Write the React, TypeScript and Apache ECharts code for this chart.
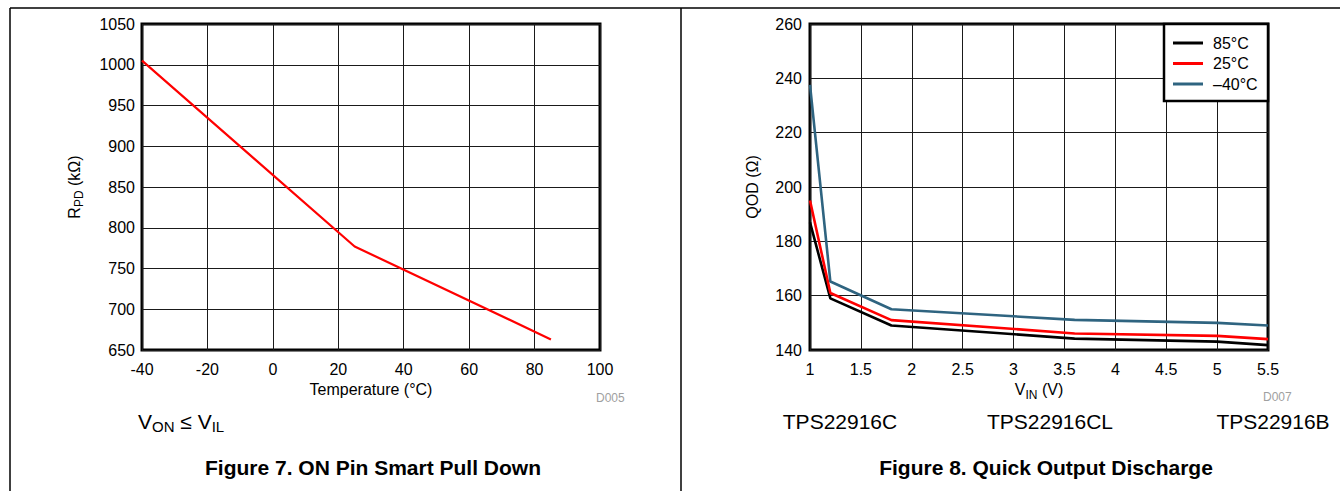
import React, { useEffect, useRef } from "react";
import * as echarts from "echarts";

// ---- Figure 7 data ----
const tempX = [-40, 25, 85];
const rpdY = [1005, 777, 663];

// ---- Figure 8 data ----
const vinX = [1, 1.2, 1.8, 3.6, 5.0, 5.5];
const qod85 = [187, 159, 149, 144.2, 143.1, 141.8];
const qod25 = [195, 161, 151, 146.1, 145.2, 144];
const qodM40 = [237.6, 165.2, 155, 151.1, 150, 149];
const seriesNames = ["85°C", "25°C", "–40°C"];

const FONT = '"Liberation Sans", Arial, Helvetica, sans-serif';

const zip = (xs: number[], ys: number[]) => xs.map((x, i) => [x, ys[i]]);

export default function App() {
  const ref = useRef<HTMLDivElement>(null);

  useEffect(() => {
    if (!ref.current) return;
    const chart = echarts.init(ref.current, undefined, { renderer: "svg" });

    const axisLabel = {
      fontSize: 16, color: "#000", fontFamily: FONT,
      formatter: (v: number) => String(v),
    };
    const splitLine = { show: true, lineStyle: { color: "#1a1a1a", width: 1 } };
    const nameRich = {
      m: { fontSize: 16, lineHeight: 22, color: "#000", fontFamily: FONT },
      s: { fontSize: 12, lineHeight: 12, verticalAlign: "bottom", color: "#000", fontFamily: FONT },
    };

    const option: any = {
      animation: false,
      backgroundColor: "#fff",
      textStyle: { fontFamily: FONT },
      grid: [
        { left: 142, top: 24, width: 458, height: 326, show: true, borderColor: "#000", borderWidth: 3, backgroundColor: "transparent" },
        { left: 810, top: 24, width: 458, height: 326, show: true, borderColor: "#000", borderWidth: 3, backgroundColor: "transparent" },
      ],
      xAxis: [
        {
          type: "value", gridIndex: 0, min: -40, max: 100, interval: 20,
          axisLine: { show: false }, axisTick: { show: false },
          axisLabel: { ...axisLabel, margin: 11 }, splitLine,
          name: "Temperature (°C)", nameLocation: "middle", nameGap: 30,
          nameTextStyle: { fontSize: 16, color: "#000", fontFamily: FONT },
        },
        {
          type: "value", gridIndex: 1, min: 1, max: 5.5, interval: 0.5,
          axisLine: { show: false }, axisTick: { show: false },
          axisLabel: { ...axisLabel, margin: 11 }, splitLine,
          name: "{m|V}{s|IN}{m| (V)}", nameLocation: "middle", nameGap: 28,
          nameTextStyle: { rich: nameRich },
        },
      ],
      yAxis: [
        {
          type: "value", gridIndex: 0, min: 650, max: 1050, interval: 50,
          axisLine: { show: false }, axisTick: { show: false },
          axisLabel: { ...axisLabel, margin: 7 }, splitLine,
          name: "{m|R}{s|PD}{m| (kΩ)}", nameLocation: "middle", nameGap: 57,
          nameTextStyle: { rich: nameRich },
        },
        {
          type: "value", gridIndex: 1, min: 140, max: 260, interval: 20,
          axisLine: { show: false }, axisTick: { show: false },
          axisLabel: { ...axisLabel, margin: 8 }, splitLine,
          name: "QOD (Ω)", nameLocation: "middle", nameGap: 50,
          nameTextStyle: { fontSize: 16, color: "#000", fontFamily: FONT },
        },
      ],
      legend: {
        orient: "vertical", left: 1173, top: 35, itemWidth: 30, itemHeight: 3,
        icon: "rect", itemGap: 4.5, padding: 0,
        textStyle: { fontSize: 16, color: "#000", fontFamily: FONT, padding: [0, 0, 0, 5] },
        data: seriesNames,
      },
      series: [
        {
          type: "line", xAxisIndex: 0, yAxisIndex: 0, symbol: "none",
          lineStyle: { color: "#ff0000", width: 2.2 }, data: zip(tempX, rpdY),
        },
        {
          name: seriesNames[0], type: "line", xAxisIndex: 1, yAxisIndex: 1, symbol: "none",
          color: "#000000", lineStyle: { color: "#000000", width: 2.6 }, data: zip(vinX, qod85),
        },
        {
          name: seriesNames[1], type: "line", xAxisIndex: 1, yAxisIndex: 1, symbol: "none",
          color: "#ff0000", lineStyle: { color: "#ff0000", width: 2.6 }, data: zip(vinX, qod25),
        },
        {
          name: seriesNames[2], type: "line", xAxisIndex: 1, yAxisIndex: 1, symbol: "none",
          color: "#2f6480", lineStyle: { color: "#2f6480", width: 2.6 }, data: zip(vinX, qodM40),
        },
      ],
      graphic: [
        { type: "line", shape: { x1: 10, y1: 8, x2: 1340, y2: 8 }, style: { stroke: "#000", lineWidth: 1.5 } },
        { type: "line", shape: { x1: 10, y1: 8, x2: 10, y2: 491 }, style: { stroke: "#000", lineWidth: 1.5 } },
        { type: "line", shape: { x1: 681, y1: 8, x2: 681, y2: 491 }, style: { stroke: "#000", lineWidth: 1.5 } },
        {
          type: "rect", z: 3, shape: { x: 1164, y: 24, width: 104, height: 77 },
          style: { fill: "#fff", stroke: "#000", lineWidth: 2.5 },
        },
        {
          type: "text", x: 596, y: 398,
          style: { text: "D005", fontSize: 12, fill: "#a0a0a0", fontFamily: FONT, verticalAlign: "middle" },
        },
        {
          type: "text", x: 1263, y: 397,
          style: { text: "D007", fontSize: 12, fill: "#a0a0a0", fontFamily: FONT, verticalAlign: "middle" },
        },
        {
          type: "text", x: 138, y: 421,
          style: {
            text: "{m|V}{s|ON}{m| ≤ V}{s|IL}", fill: "#000", verticalAlign: "middle",
            rich: {
              m: { fontSize: 21, lineHeight: 26, fontFamily: FONT, fill: "#000" },
              s: { fontSize: 15, lineHeight: 15, verticalAlign: "bottom", fontFamily: FONT, fill: "#000" },
            },
          },
        },
        {
          type: "text", x: 840, y: 421,
          style: { text: "TPS22916C", fontSize: 21, fill: "#000", fontFamily: FONT, align: "center", verticalAlign: "middle" },
        },
        {
          type: "text", x: 1050, y: 421,
          style: { text: "TPS22916CL", fontSize: 21, fill: "#000", fontFamily: FONT, align: "center", verticalAlign: "middle" },
        },
        {
          type: "text", x: 1273, y: 421,
          style: { text: "TPS22916B", fontSize: 21, fill: "#000", fontFamily: FONT, align: "center", verticalAlign: "middle" },
        },
        {
          type: "text", x: 373, y: 467,
          style: { text: "Figure 7. ON Pin Smart Pull Down", fontSize: 21, fontWeight: "bold", fill: "#000", fontFamily: FONT, align: "center", verticalAlign: "middle" },
        },
        {
          type: "text", x: 1046, y: 467,
          style: { text: "Figure 8. Quick Output Discharge", fontSize: 21, fontWeight: "bold", fill: "#000", fontFamily: FONT, align: "center", verticalAlign: "middle" },
        },
      ],
    };

    chart.setOption(option);
    return () => chart.dispose();
  }, []);

  return (
    <div
      ref={ref}
      style={{ position: "absolute", left: 0, top: 0, width: 1340, height: 491, background: "#fff" }}
    />
  );
}
